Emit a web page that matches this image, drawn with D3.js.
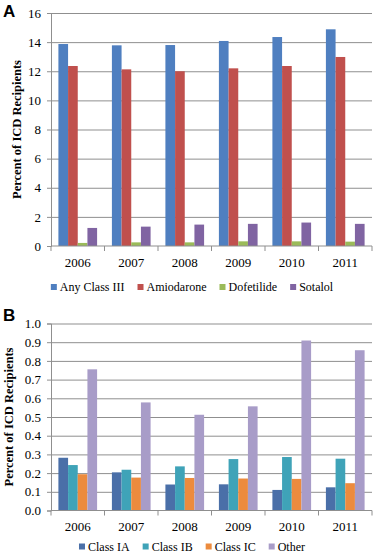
<!DOCTYPE html>
<html>
<head>
<meta charset="utf-8">
<script src="https://cdn.jsdelivr.net/npm/d3@7"></script>
<style>
  body { margin: 0; background: #fff; }
  svg { display: block; }
</style>
</head>
<body>
<div id="chart"></div>
<script>
const years = ["2006", "2007", "2008", "2009", "2010", "2011"];

// Panel A: Class III drugs (% of ICD recipients)
const classIIIKeys = ["Any Class III", "Amiodarone", "Dofetilide", "Sotalol"];
const anyClassIII = [13.87, 13.78, 13.80, 14.08, 14.35, 14.88];
const amiodarone = [12.36, 12.13, 12.00, 12.20, 12.36, 12.98];
const dofetilide = [0.21, 0.25, 0.25, 0.32, 0.32, 0.30];
const sotalol = [1.24, 1.33, 1.47, 1.52, 1.61, 1.52];
const ticksA = [0, 2, 4, 6, 8, 10, 12, 14, 16];

// Panel B: other antiarrhythmics
const otherKeys = ["Class IA", "Class IB", "Class IC", "Other"];
const classIA = [0.282, 0.204, 0.139, 0.140, 0.110, 0.124];
const classIB = [0.243, 0.218, 0.236, 0.275, 0.286, 0.277];
const classIC = [0.194, 0.176, 0.174, 0.171, 0.169, 0.146];
const other = [0.755, 0.578, 0.512, 0.557, 0.909, 0.857];
const ticksB = [0, 0.1, 0.2, 0.3, 0.4, 0.5, 0.6, 0.7, 0.8, 0.9, 1.0];

const width = 374, height = 555;
const serif = "'Liberation Serif', 'DejaVu Serif', serif";
const gridColor = "#8f8f8f";

const svg = d3.select("#chart").append("svg")
  .attr("width", width)
  .attr("height", height)
  .attr("viewBox", [0, 0, width, height]);

function drawPanel(opts) {
  const { letter, letterY, keys, series, colors, ticks, fmt, top, bottom, labelY, legendY, titleX } = opts;
  const left = 51, right = 372;

  const rows = years.map((yr, i) => {
    const row = { year: yr };
    keys.forEach((k, j) => row[k] = series[j][i]);
    return row;
  });

  const x = d3.scaleBand().domain(years).range([left, right]);
  const x1 = d3.scaleBand().domain(keys).range([0, x.bandwidth()]).paddingOuter(0.765);
  const y = d3.scaleLinear().domain([0, ticks[ticks.length - 1]]).range([bottom, top]);
  const color = d3.scaleOrdinal().domain(keys).range(colors);

  const g = svg.append("g");

  // gridlines
  g.append("g")
    .attr("transform", `translate(${left},0)`)
    .call(d3.axisLeft(y).tickValues(ticks.slice(1)).tickSize(-(right - left)).tickFormat(""))
    .call(s => s.select(".domain").remove())
    .call(s => s.selectAll("line").attr("stroke", gridColor).attr("stroke-width", 1));

  // bars
  g.append("g")
    .selectAll("g")
    .data(rows)
    .join("g")
      .attr("transform", d => `translate(${x(d.year)},0)`)
    .selectAll("rect")
    .data(d => keys.map(k => ({ key: k, value: d[k] })))
    .join("rect")
      .attr("x", d => x1(d.key))
      .attr("width", x1.bandwidth())
      .attr("y", d => y(d.value))
      .attr("height", d => y(0) - y(d.value))
      .attr("fill", d => color(d.key));

  // y axis
  g.append("g")
    .attr("transform", `translate(${left},0)`)
    .call(d3.axisLeft(y).tickValues(ticks).tickSize(4).tickPadding(6).tickFormat(fmt))
    .call(s => s.select(".domain").attr("stroke", gridColor))
    .call(s => s.selectAll(".tick line").attr("stroke", gridColor))
    .call(s => s.selectAll("text")
      .attr("font-family", serif)
      .attr("font-size", 13)
      .attr("fill", "#000"));

  // x axis: baseline, boundary ticks and year labels
  g.append("line")
    .attr("x1", left).attr("x2", right)
    .attr("y1", y(0)).attr("y2", y(0))
    .attr("stroke", gridColor);

  const bounds = years.map(d => x(d)).concat([x(years[years.length - 1]) + x.bandwidth()]);
  g.append("g")
    .selectAll("line")
    .data(bounds)
    .join("line")
      .attr("x1", d => d).attr("x2", d => d)
      .attr("y1", y(0)).attr("y2", y(0) + 5)
      .attr("stroke", gridColor);

  g.append("g")
    .selectAll("text")
    .data(years)
    .join("text")
      .attr("x", d => x(d) + x.bandwidth() / 2)
      .attr("y", labelY)
      .attr("dy", "0.35em")
      .attr("text-anchor", "middle")
      .attr("font-family", serif)
      .attr("font-size", 13)
      .text(d => d);

  // axis title
  g.append("text")
    .attr("transform", `translate(${titleX},${(top + bottom) / 2}) rotate(-90)`)
    .attr("text-anchor", "middle")
    .attr("dy", "0.35em")
    .attr("font-family", serif)
    .attr("font-weight", "bold")
    .attr("font-size", 12.5)
    .text("Percent of ICD Recipients");

  // panel letter
  g.append("text")
    .attr("x", 3)
    .attr("y", letterY)
    .attr("font-family", "'Liberation Sans', Arial, sans-serif")
    .attr("font-weight", "bold")
    .attr("font-size", 17)
    .text(letter);

  // legend
  const legend = g.append("g");
  let cx = 0;
  keys.forEach(k => {
    const item = legend.append("g").attr("transform", `translate(${cx},0)`);
    item.append("rect")
      .attr("x", 0).attr("y", -3)
      .attr("width", 6).attr("height", 6)
      .attr("fill", color(k));
    const t = item.append("text")
      .attr("x", 9)
      .attr("dy", "0.35em")
      .attr("font-family", serif)
      .attr("font-size", 12)
      .text(k);
    cx += 9 + t.node().getComputedTextLength() + 13;
  });
  const legendWidth = cx - 13;
  legend.attr("transform", `translate(${192 - legendWidth / 2},${legendY})`);
}

drawPanel({
  letter: "A", letterY: 17,
  keys: classIIIKeys,
  series: [anyClassIII, amiodarone, dofetilide, sotalol],
  colors: ["#4f7fc0", "#c0504d", "#9bbb59", "#8064a2"],
  ticks: ticksA, fmt: d3.format("d"),
  top: 13, bottom: 246, labelY: 262, legendY: 287, titleX: 17
});

drawPanel({
  letter: "B", letterY: 321,
  keys: otherKeys,
  series: [classIA, classIB, classIC, other],
  colors: ["#4a6fa8", "#3fa3b8", "#ec8b3e", "#a89cc8"],
  ticks: ticksB, fmt: d3.format(".1f"),
  top: 323.5, bottom: 510.5, labelY: 526, legendY: 546.5, titleX: 9
});
</script>
</body>
</html>
